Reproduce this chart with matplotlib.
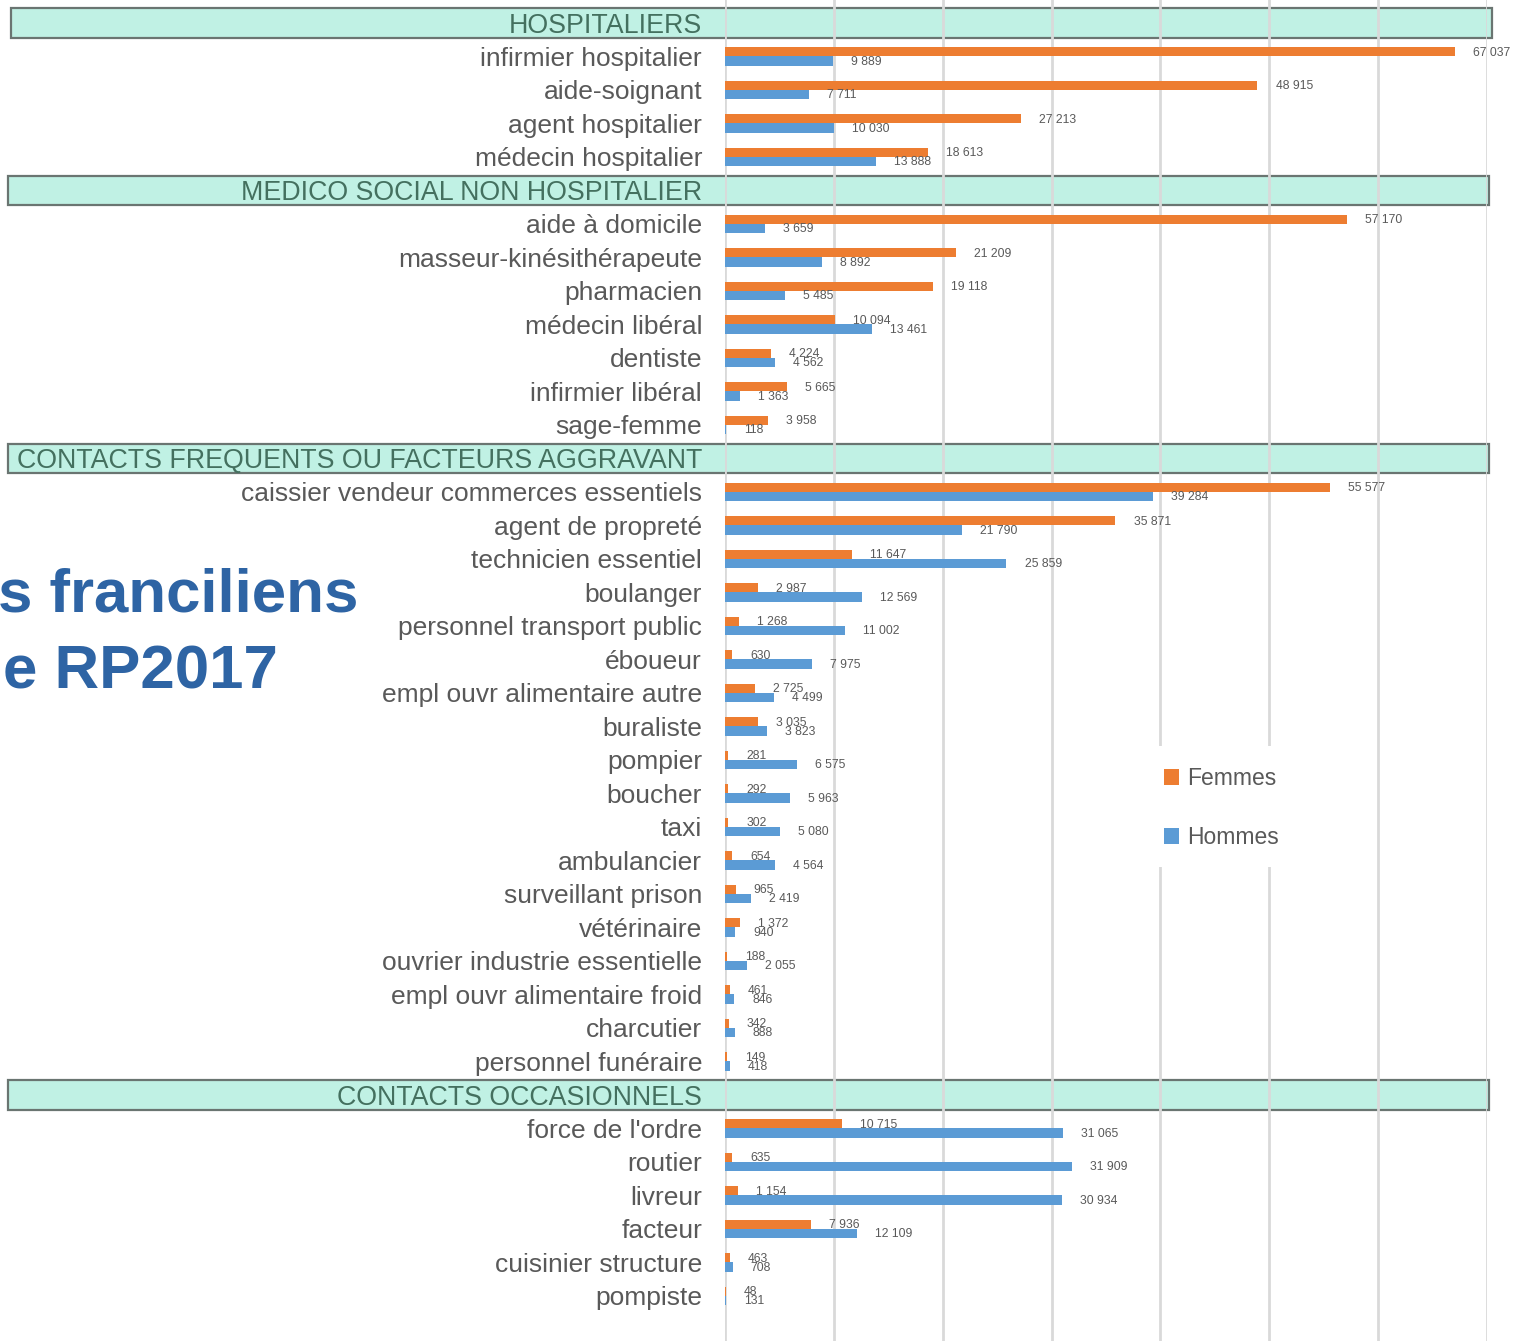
import matplotlib
matplotlib.use("Agg")
import matplotlib.pyplot as plt
from matplotlib.patches import Rectangle
from matplotlib.transforms import blended_transform_factory

# Groupes et métiers (ordre du haut vers le bas)
groups = [
    "HOSPITALIERS",
    "MEDICO SOCIAL NON HOSPITALIER",
    "CONTACTS FREQUENTS OU FACTEURS AGGRAVANT",
    "CONTACTS OCCASIONNELS",
]

hosp_jobs = ["infirmier hospitalier", "aide-soignant", "agent hospitalier", "médecin hospitalier"]
hosp_f = [67037, 48915, 27213, 18613]
hosp_h = [9889, 7711, 10030, 13888]

medico_jobs = ["aide à domicile", "masseur-kinésithérapeute", "pharmacien", "médecin libéral",
               "dentiste", "infirmier libéral", "sage-femme"]
medico_f = [57170, 21209, 19118, 10094, 4224, 5665, 3958]
medico_h = [3659, 8892, 5485, 13461, 4562, 1363, 118]

freq_jobs = ["caissier vendeur commerces essentiels", "agent de propreté", "technicien essentiel",
             "boulanger", "personnel transport public", "éboueur", "empl ouvr alimentaire autre",
             "buraliste", "pompier", "boucher", "taxi", "ambulancier", "surveillant prison",
             "vétérinaire", "ouvrier industrie essentielle", "empl ouvr alimentaire froid",
             "charcutier", "personnel funéraire"]
freq_f = [55577, 35871, 11647, 2987, 1268, 630, 2725, 3035, 281, 292, 302, 654, 965, 1372,
          188, 461, 342, 149]
freq_h = [39284, 21790, 25859, 12569, 11002, 7975, 4499, 3823, 6575, 5963, 5080, 4564, 2419,
          940, 2055, 846, 888, 418]

occ_jobs = ["force de l'ordre", "routier", "livreur", "facteur", "cuisinier structure", "pompiste"]
occ_f = [10715, 635, 1154, 7936, 463, 48]
occ_h = [31065, 31909, 30934, 12109, 708, 131]

blocks = [
    (groups[0], hosp_jobs, hosp_f, hosp_h),
    (groups[1], medico_jobs, medico_f, medico_h),
    (groups[2], freq_jobs, freq_f, freq_h),
    (groups[3], occ_jobs, occ_f, occ_h),
]

ORANGE = "#ED7D31"
BLUE = "#5B9BD5"
GREY = "#595959"
HEAD_TXT = "#44705F"
FONT = "Liberation Sans"

W, H = 1529, 1341
fig = plt.figure(figsize=(W / 100, H / 100), dpi=100)
fig.patch.set_facecolor("white")
ax = fig.add_axes([725 / W, 0, (1487 - 725) / W, 1])
ax.set_facecolor("none")

# une ligne par entête ou métier
labels, colors, sizes, ys = [], [], [], []
rows = []  # (y, f, h)
header_ys = []
y = 0
for name, jobs, fv, hv in blocks:
    labels.append(name)
    colors.append(HEAD_TXT)
    sizes.append(19.3)
    ys.append(y)
    header_ys.append(y)
    y += 1
    for j, f, h in zip(jobs, fv, hv):
        labels.append(j)
        colors.append(GREY)
        sizes.append(19)
        ys.append(y)
        rows.append((y, f, h))
        y += 1

bh = 0.27
yf = [r[0] - bh / 2 for r in rows]
yh = [r[0] + bh / 2 for r in rows]
vf = [r[1] for r in rows]
vh = [r[2] for r in rows]
ax.barh(yf, vf, height=bh, color=ORANGE, zorder=3, label="Femmes")
ax.barh(yh, vh, height=bh, color=BLUE, zorder=3, label="Hommes")

for yy, v in zip(yf + yh, vf + vh):
    txt = f"{v:,}".replace(",", " ")
    ax.annotate(txt, (v, yy), xytext=(13, -0.5), textcoords="offset points",
                va="center", ha="left", fontsize=8.7, color=GREY, family=FONT, zorder=4)

ax.set_xlim(0, 70000)
ax.set_ylim((H - 23) / 33.5, -23 / 33.5)
ax.set_xticks(range(0, 70001, 10000))
ax.xaxis.grid(True, color="#D9D9D9", linewidth=2)
ax.tick_params(axis="x", length=0, labelbottom=False)
ax.set_yticks(ys)
ax.set_yticklabels(labels, fontsize=19, family=FONT)
ax.tick_params(axis="y", length=0, pad=16.5)
for t, c, s in zip(ax.get_yticklabels(), colors, sizes):
    t.set_color(c)
    t.set_fontsize(s)
for s in ax.spines.values():
    s.set_visible(False)

# bandeaux des groupes
tr = blended_transform_factory(fig.transFigure, ax.transData)
for i, hy in enumerate(header_ys):
    x0 = (11 if i == 0 else 8) / W
    x1 = (1492 if i == 0 else 1489) / W
    ax.add_patch(Rectangle((x0, hy - 0.44), x1 - x0, 0.88, transform=tr, clip_on=False,
                           facecolor="#C0F1E4", edgecolor="#6A7571", linewidth=1.6, zorder=1))

# légende sur fond blanc
ax.add_patch(Rectangle((1155 / W, 1 - 867 / H), 145 / W, 121 / H,
                       transform=fig.transFigure, clip_on=False, facecolor="white",
                       edgecolor="none", zorder=2))
leg = ax.legend(loc="upper left", bbox_to_anchor=(1164 / W, 1 - 767 / H),
                bbox_transform=fig.transFigure, frameon=False,
                handlelength=0.65, handleheight=0.65, handletextpad=0.35,
                labelspacing=1.57, borderpad=0, borderaxespad=0,
                prop={"family": FONT, "size": 16.5})
for t in leg.get_texts():
    t.set_color(GREY)
leg.set_zorder(6)

# titre partiellement visible
fig.text(358 / W, 1 - 612 / H, "s franciliens", ha="right", va="baseline",
         fontsize=44.5, weight="bold", color="#2E64A4", family=FONT)
fig.text(278 / W, 1 - 688 / H, "e RP2017", ha="right", va="baseline",
         fontsize=44.5, weight="bold", color="#2E64A4", family=FONT)

fig.savefig("out.png", dpi=100)
